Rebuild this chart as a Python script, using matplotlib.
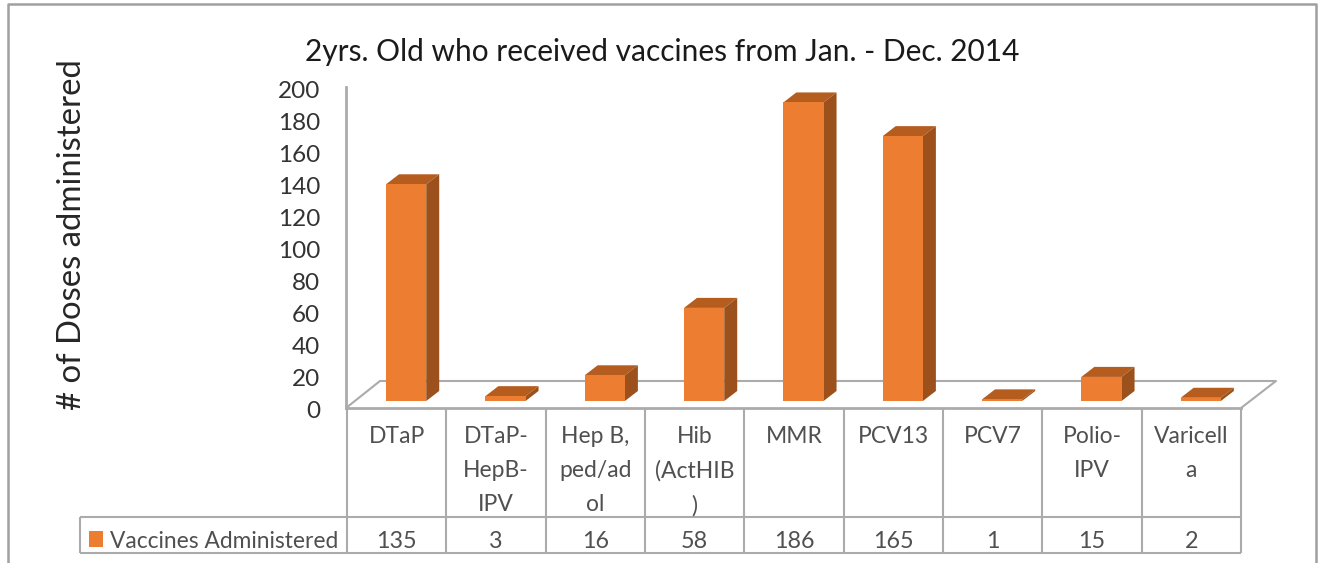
import matplotlib
matplotlib.use("Agg")
import matplotlib.pyplot as plt

categories = ["DTaP", "DTaP-\nHepB-\nIPV", "Hep B,\nped/ad\nol", "Hib\n(ActHIB\n)", "MMR",
              "PCV13", "PCV7", "Polio-\nIPV", "Varicell\na"]
doses = [135, 3, 16, 58, 186, 165, 1, 15, 2]
yticks = list(range(0, 201, 20))
title = "2yrs. Old who received vaccines from Jan. - Dec. 2014"
ylabel = "# of Doses administered"
series_name = "Vaccines Administered"

W, H = 1322, 563
FRONT, TOP, SIDE = "#ED7D31", "#B55D1F", "#9C501B"
GRID = "#ABABAB"
plt.rcParams["font.family"] = ["Lato", "DejaVu Sans"]
fig = plt.figure(figsize=(W / 100, H / 100), dpi=100)


def rect(x0, y_top, x1, y_bottom):
    return [x0 / W, 1 - y_bottom / H, (x1 - x0) / W, (y_bottom - y_top) / H]


# Chrome layer in pixel coordinates
bg = fig.add_axes([0, 0, 1, 1], zorder=0)
bg.set_xlim(0, W)
bg.set_ylim(H, 0)
bg.axis("off")
line = dict(color=GRID, lw=1.5, solid_capstyle="butt")
bg.plot([8, 8, 1316, 1316], [H, 4, 4, H], color="#A0A0A0", lw=1.8)
bg.plot([346, 346], [87, 408], color=GRID, lw=2)
bg.plot([346, 380, 1276, 1241], [408, 381, 381, 408], **line)
bg.plot([346, 1241], [408, 408], color=GRID, lw=2)
cell = (1241 - 347) / len(categories)
for i in range(len(categories) + 1):
    bg.plot([347 + i * cell] * 2, [408, 553], **line)
bg.plot([80, 1241], [517, 517], **line)
bg.plot([80, 1241], [553, 553], **line)
bg.plot([80, 80], [517, 553], **line)

for i, (c, v) in enumerate(zip(categories, doses)):
    x = 347 + (i + 0.5) * cell
    bg.text(x, 426, c, ha="center", va="top", fontsize=16.5, color="#505050", linespacing=1.76)
    bg.text(x, 542, str(v), ha="center", va="center", fontsize=16.8, color="#505050")
bg.add_patch(plt.Rectangle((89, 531), 14, 16, color=FRONT, lw=0))
bg.text(110, 542, series_name, ha="left", va="center", fontsize=16.4, color="#505050")
bg.text(662, 52, title, ha="center", va="center", fontsize=21.5, color="#1A1A1A")
bg.text(72, 235, ylabel, ha="center", va="center", rotation=90, fontsize=23.7, color="#262626")

# Value scale on the wall
wall = fig.add_axes(rect(346, 89, 1241, 409), zorder=1)
wall.patch.set_alpha(0)
wall.set_ylim(0, 200)
wall.set_xticks([])
wall.set_yticks(yticks)
wall.tick_params(axis="y", length=0, pad=18.5, labelsize=17.5, labelcolor="#333333")
for s in wall.spines.values():
    s.set_visible(False)

# Bars on the floor
ax = fig.add_axes(rect(347, 80, 1241, 401), zorder=2)
ax.patch.set_alpha(0)
ax.set_xlim(0, len(categories))
ax.set_ylim(0, 200)
ax.axis("off")
dx = 13 / cell
dy = 10 / 1.6
bw = 0.405
xs = [i + 0.595 for i in range(len(doses))]
ax.bar(xs, doses, width=bw, color=FRONT, lw=0, zorder=3)
for x, v in zip(xs, doses):
    l, r = x - bw / 2, x + bw / 2
    ax.fill([l, r, r + dx, l + dx], [v, v, v + dy, v + dy], color=TOP, lw=0, zorder=2, clip_on=False)
    ax.fill([r, r + dx, r + dx, r], [0, dy, v + dy, v], color=SIDE, lw=0, zorder=2, clip_on=False)

fig.savefig("out.png", dpi=100)
